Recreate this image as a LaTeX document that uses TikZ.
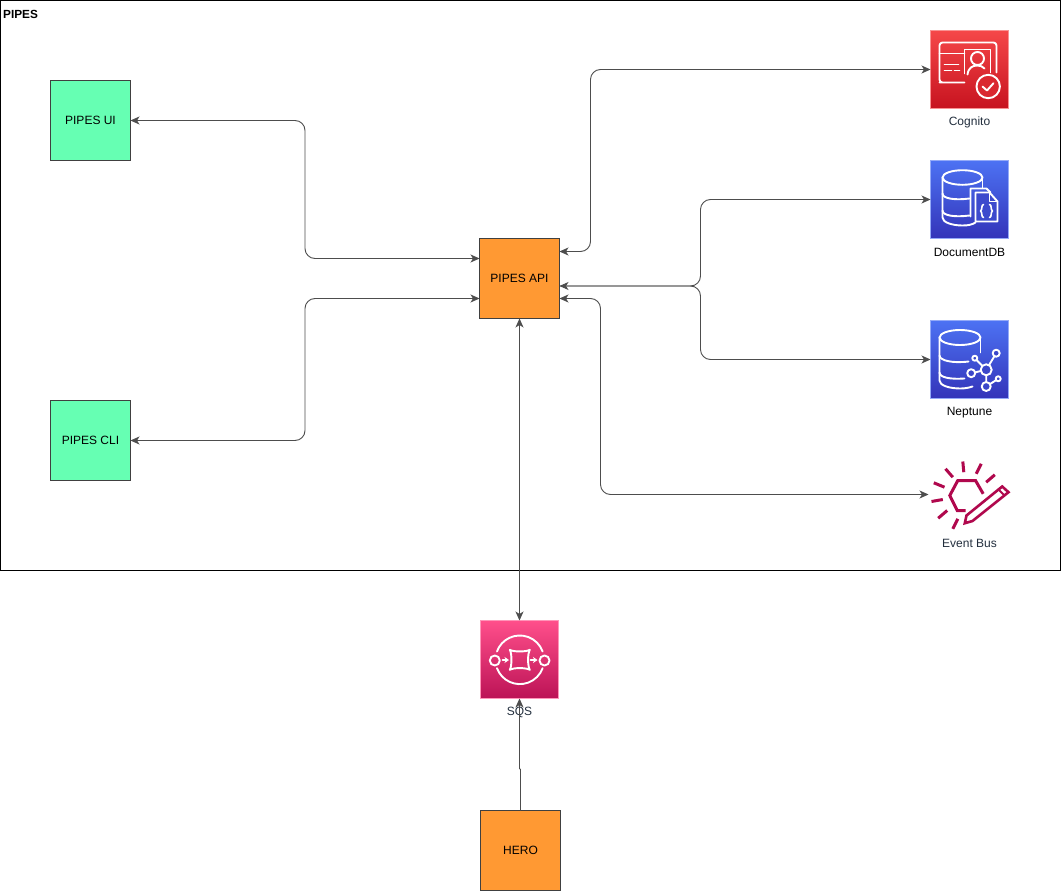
\documentclass[tikz,border=0pt]{standalone}
\usepackage{fontspec}
\setmainfont{Liberation Sans}
\usetikzlibrary{arrows.meta,calc}
\definecolor{frameC}{HTML}{000000}
\definecolor{linkC}{HTML}{4D4D4D}
\definecolor{orangeC}{HTML}{FF9933}
\definecolor{greenC}{HTML}{66FFB3}
\definecolor{redT}{HTML}{F54749}
\definecolor{redB}{HTML}{C7131F}
\definecolor{blueT}{HTML}{4D72F3}
\definecolor{blueB}{HTML}{3334B9}
\definecolor{pinkT}{HTML}{FF4F8B}
\definecolor{pinkB}{HTML}{BC1356}
\definecolor{busC}{HTML}{B0084D}
\definecolor{awsText}{HTML}{232F3E}
\tikzset{
  box/.style={draw=black!75,line width=0.8pt,minimum width=80pt,minimum height=80pt,inner sep=0pt,outer sep=0pt,font=\fontsize{12}{14}\selectfont,text=black},
  uibox/.style={box,fill=greenC},
  corebox/.style={box,fill=orangeC},
  icon/.style={minimum width=78pt,minimum height=78pt,inner sep=0pt,outer sep=0pt},
  redicon/.style={icon,draw=redT!60!white,line width=0.5pt,top color=redT,bottom color=redB},
  blueicon/.style={icon,draw=blueT!60!white,line width=0.5pt,top color=blueT,bottom color=blueB},
  pinkicon/.style={icon,draw=pinkT!60!white,line width=0.5pt,top color=pinkT,bottom color=pinkB},
  glyph/.style={draw=white,line width=1.9pt,line cap=round,line join=round},
  busglyph/.style={draw=busC,line width=3pt,line join=miter},
  caption/.style={inner sep=0pt,font=\fontsize{12}{14}\selectfont,text=awsText},
  link/.style={draw=linkC,line width=0.9pt,rounded corners=10pt},
  tip/.style={arrows={-Stealth[length=9pt,width=8pt,inset=2.5pt]}},
  twotip/.style={arrows={Stealth[length=9pt,width=8pt,inset=2.5pt]-Stealth[length=9pt,width=8pt,inset=2.5pt]}}
}
\begin{document}
\begin{tikzpicture}[x=1pt,y=-1pt]
\useasboundingbox (0,0) rectangle (1061,891);
\fill[white] (0,0) rectangle (1061,891);
\node[draw=frameC,line width=0.8pt,minimum width=1060pt,minimum height=570pt,inner sep=0pt,outer sep=0pt] (frame) at (530.5,285.5) {};
\node[anchor=west,inner sep=0pt,font=\bfseries\fontsize{11.8}{13}\selectfont] (frametitle) at (3,14) {PIPES};

\node[uibox] (ui) at (90.5,120.5) {PIPES UI};
\node[uibox] (cli) at (90.5,440.5) {PIPES CLI};
\node[corebox] (api) at (519.5,278.5) {PIPES API};
\node[corebox] (hero) at (520.5,850.5) {HERO};

\node[redicon] (cog) at (969.5,69.5) {};
\node[blueicon] (doc) at (969.5,199.5) {};
\node[blueicon] (nep) at (969.5,359.5) {};
\node[icon] (bus) at (969.5,499.5) {};
\node[pinkicon] (sqs) at (519.5,659.5) {};

\node[caption] (cogl) at (969.5,122) {Cognito};
\node[caption,text=black] (docl) at (969.5,252.5) {DocumentDB};
\node[caption,text=black] (nepl) at (969.5,412.5) {Neptune};
\node[caption] (busl) at (969.5,543.5) {Event Bus};
\node[caption] (sqsl) at (519.5,712) {SQS};

% Cognito glyph
\begin{scope}[shift={(cog.north west)}]
\draw[glyph,rounded corners=3pt] (34,52) -- (12,52) -- (9,52) -- (9,12) -- (66,12) -- (66,42);
\draw[glyph] (9,23) -- (34,23);
\draw[glyph] (34,43) -- (34,19) -- (60,19) -- (60,42);
\draw[glyph] (47,28) circle[radius=6.5pt];
\draw[glyph] (37,44) .. controls (38,37) and (42,35) .. (47,35) .. controls (50,35) and (52,36) .. (54,38);
\draw[glyph] (14,34) -- (28,34) (14,40) -- (21,40) (24,40) -- (29,40);
\fill[redB!60!redT] (57.7,56) circle[radius=13pt];
\draw[glyph] (57.7,56) circle[radius=11.7pt];
\draw[glyph] (52,56) -- (56.5,60) -- (63,52.7);
\end{scope}

% DocumentDB glyph
\begin{scope}[shift={(doc.north west)}]
\draw[glyph] (32,17) ellipse[x radius=20pt,y radius=7.3pt];
\draw[glyph] (12,17) -- (12,57) .. controls (12,62) and (22,65) .. (32,65) .. controls (38,65) and (42,64) .. (45,62);
\draw[glyph] (52,17) -- (52,27);
\draw[glyph] (12,33) .. controls (12,38) and (24,40) .. (39,38);
\draw[glyph] (12,50) .. controls (12,55) and (24,57) .. (39,55);
\draw[glyph] (40,56) -- (40,28) -- (56,28) -- (60,32);
\draw[glyph,fill=blueT!35!blueB] (45,32) -- (59,32) -- (67,41) -- (67,61) -- (45,61) -- cycle;
\draw[glyph,line width=1.4pt] (59,32) -- (59,41) -- (67,41);
\draw[glyph,line width=1.6pt] (53,44) .. controls (50.5,44) and (52,50) .. (50,50.5) .. controls (52,51) and (50.5,57) .. (53,57);
\draw[glyph,line width=1.6pt] (59,44) .. controls (61.5,44) and (60,50) .. (62,50.5) .. controls (60,51) and (61.5,57) .. (59,57);
\end{scope}

% Neptune glyph
\begin{scope}[shift={(nep.north west)}]
\draw[glyph] (29.5,17) ellipse[x radius=20.5pt,y radius=7.5pt];
\draw[glyph] (9,17) -- (9,60) .. controls (9,65) and (19,68) .. (30,68) .. controls (35,68) and (39,67) .. (42,66);
\draw[glyph] (50,17) -- (50,32);
\draw[glyph] (9,35) .. controls (9,40) and (22,43) .. (38,41);
\draw[glyph] (9,52) .. controls (9,57) and (20,59) .. (34,58);
\draw[glyph] (55.7,49.3) -- (65.7,32.7) (55.7,49.3) -- (44.3,37.7) (55.7,49.3) -- (40.7,52.7) (55.7,49.3) -- (55.7,66) (55.7,66) -- (67.7,58.3);
\foreach \px/\py/\pr in {55.7/49.3/5.5,65.7/32.7/3.5,44.3/37.7/2.5,40.7/52.7/4,55.7/66/4.5,67.7/58.3/2.5}
  \draw[glyph,fill=blueT!30!blueB] (\px,\py) circle[radius=\pr pt];
\end{scope}

% Event bus glyph
\begin{scope}[shift={(bus.north west)}]
\draw[busglyph] (35,50) -- (26.7,50) -- (19.3,35) -- (27.3,20) -- (45,20) -- (52.7,33.3);
\draw[busglyph] (32.3,1) -- (33.3,11.7) (50.7,3.3) -- (45.7,13.3) (64.3,14.3) -- (55.7,21.7) (15,8.3) -- (22.3,16.7) (3.3,22.3) -- (14,26.7) (1,41) -- (12.3,39) (7.7,57.7) -- (16.7,50) (22.3,68.3) -- (27.3,58.3);
\draw[busglyph,line width=2.6pt] (34.3,62.7) -- (36,55) -- (71.7,26) -- (78,31.7) -- (42,60.5) -- cycle;
\draw[busglyph,line width=2pt] (68,29) -- (74,35);
\end{scope}

% SQS glyph
\begin{scope}[shift={(sqs.north west)}]
\draw[glyph] (39.3,39.3) ++(160:24.3pt) arc[start angle=160,end angle=20,radius=24.3pt];
\draw[glyph] (39.3,39.3) ++(200:24.3pt) arc[start angle=200,end angle=340,radius=24.3pt];
\draw[glyph] (14.3,40) circle[radius=5pt] (64,40) circle[radius=5pt];
\draw[glyph] (29.3,29.3) .. controls (33,31.5) and (45.5,31.5) .. (49.3,29.3) .. controls (47,33) and (47,45.5) .. (49.3,49.3) .. controls (45.5,47) and (33,47) .. (29.3,49.3) .. controls (31.5,45.5) and (31.5,33) .. (29.3,29.3) -- cycle;
\draw[glyph,line width=1.6pt,arrows={-Stealth[length=4.5pt,width=6pt]}] (22,39.5) -- (28.5,39.5);
\draw[glyph,line width=1.6pt,arrows={-Stealth[length=4.5pt,width=6pt]}] (50,39.5) -- (57,39.5);
\end{scope}

% Connectors
\draw[link,twotip] (ui.east) -- ++(174.5,0) |- ($(api.north west)+(0,20)$);
\draw[link,twotip] (cli.east) -- ++(174.5,0) |- ($(api.north west)+(0,60)$);
\draw[link,twotip] ($(api.north east)+(0,13)$) -- ++(31,0) |- (cog.west);
\draw[link,twotip] ($(api.north east)+(0,47.5)$) -- ++(141,0) |- (doc.west);
\draw[link,arrows={-Stealth[length=9pt,width=8pt,inset=2.5pt]}] ($(api.north east)+(0,47.5)$) -- ++(141,0) |- (nep.west);
\draw[link,twotip] ($(api.north east)+(0,60)$) -- ++(41,0) |- ($(bus.west)+(-2,-5)$);
\draw[link,twotip] (api.south) -- (sqs.north);
\draw[link,tip,rounded corners=0pt] (hero.north) -- ($(hero.north)+(0,-41)$) -- ($(hero.north)+(-1,-42)$) -- (sqs.south);
\end{tikzpicture}
\end{document}
